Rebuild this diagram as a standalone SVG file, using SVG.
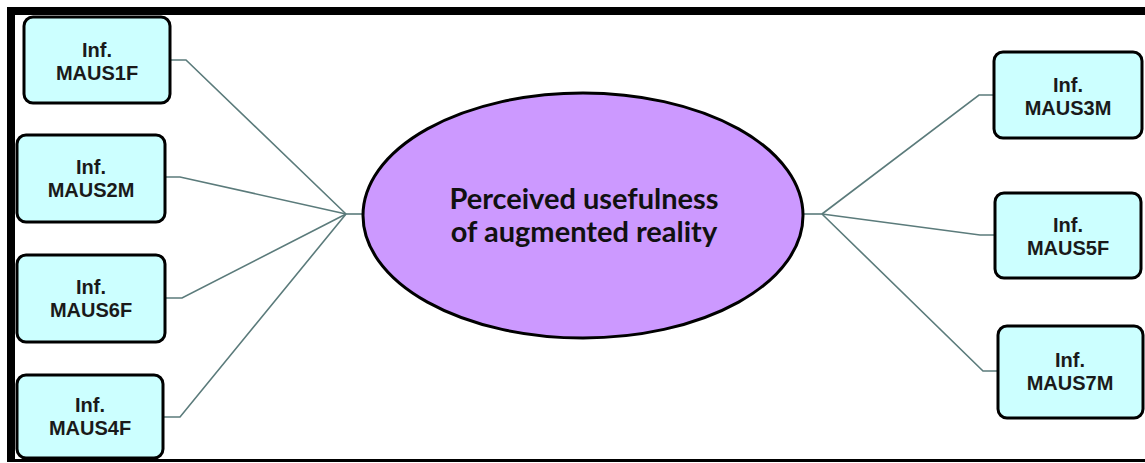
<svg xmlns="http://www.w3.org/2000/svg" width="1145" height="463" viewBox="0 0 1145 463">
<style>
.box{fill:#ccffff;stroke:#000;stroke-width:3}
.lbl{font-family:"Liberation Sans",Arial,sans-serif;font-weight:bold;font-size:20px;fill:#1a1a1a;text-anchor:middle}
.conn{fill:none;stroke:#5b7b7b;stroke-width:1.6}
.main{font-family:Lato,"Liberation Sans",sans-serif;font-weight:bold;font-size:29px;fill:#111;text-anchor:middle}
</style>
<rect x="0" y="0" width="1145" height="463" fill="#fff"/>
<g id="frame">
<rect x="7" y="7" width="1138" height="8" fill="#000"/>
<rect x="7" y="7" width="8" height="455" fill="#000"/>
<rect x="7" y="459" width="1138" height="3" fill="#000"/>
</g>
<g id="connectors">
<path class="conn" d="M170 60 H186 L346 214"/>
<path class="conn" d="M165 177 H180 L346 214"/>
<path class="conn" d="M165 298 H182 L346 214"/>
<path class="conn" d="M163 417 H180 L346 214"/>
<path class="conn" d="M346 214 H363"/>
<path class="conn" d="M994 95 H979 L822 214"/>
<path class="conn" d="M995 235 H980 L822 214"/>
<path class="conn" d="M998 371 H983 L822 214"/>
<path class="conn" d="M822 214 H803"/>
</g>
<g id="center">
<ellipse cx="583" cy="215.5" rx="220" ry="122.5" fill="#cc99ff" stroke="#000" stroke-width="3"/>
<text class="main" x="584" y="209">Perceived usefulness</text>
<text class="main" x="584" y="242">of augmented reality</text>
</g>
<g id="n1">
<rect class="box" x="24" y="17" width="146" height="86" rx="9"/>
<text class="lbl" x="97" y="57">Inf.</text>
<text class="lbl" x="97" y="80">MAUS1F</text>
</g>
<g id="n2">
<rect class="box" x="17" y="135" width="148" height="87" rx="9"/>
<text class="lbl" x="91" y="174">Inf.</text>
<text class="lbl" x="91" y="197">MAUS2M</text>
</g>
<g id="n3">
<rect class="box" x="17" y="255" width="148" height="87" rx="9"/>
<text class="lbl" x="91" y="294">Inf.</text>
<text class="lbl" x="91" y="317">MAUS6F</text>
</g>
<g id="n4">
<rect class="box" x="17" y="375" width="146" height="83" rx="9"/>
<text class="lbl" x="90" y="412">Inf.</text>
<text class="lbl" x="90" y="435">MAUS4F</text>
</g>
<g id="n5">
<rect class="box" x="994" y="52" width="148" height="86" rx="9"/>
<text class="lbl" x="1068" y="92">Inf.</text>
<text class="lbl" x="1068" y="115">MAUS3M</text>
</g>
<g id="n6">
<rect class="box" x="995" y="193" width="146" height="85" rx="9"/>
<text class="lbl" x="1068" y="232">Inf.</text>
<text class="lbl" x="1068" y="255">MAUS5F</text>
</g>
<g id="n7">
<rect class="box" x="998" y="326" width="145" height="92" rx="9"/>
<text class="lbl" x="1070" y="367">Inf.</text>
<text class="lbl" x="1070" y="390">MAUS7M</text>
</g>
</svg>
